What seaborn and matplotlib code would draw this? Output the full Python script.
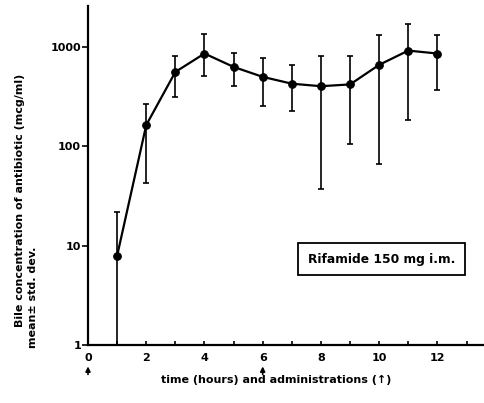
import numpy as np
import pandas as pd
import matplotlib
matplotlib.use("Agg")
import matplotlib.pyplot as plt
import matplotlib.transforms as mtransforms
import seaborn as sns

hours = [1, 2, 3, 4, 5, 6, 7, 8, 9, 10, 11, 12]
mean = [7.9, 163, 558, 855, 627, 498, 425, 401, 418, 658, 915, 855]
upper = [22, 265, 803, 1335, 870, 766, 663, 808, 808, 1306, 1683, 1306]
lower = [1, 43, 309, 505, 401, 256, 228, 37, 106, 66, 184, 365]
admin_times = [0, 6]
ytick_vals = [1, 10, 100, 1000]
xtick_vals = [0, 2, 4, 6, 8, 10, 12]

sns.set_style("ticks")
plt.rcParams['font.family'] = ['DejaVu Sans']
plt.rcParams['font.weight'] = 'bold'
plt.rcParams['text.color'] = 'black'
plt.rcParams['xtick.color'] = 'black'
plt.rcParams['ytick.color'] = 'black'
plt.rcParams['axes.edgecolor'] = 'black'

fig = plt.figure(figsize=(4.84, 4.03), dpi=100)
ax = fig.add_axes([88/484, 58/403, 396/484, 339/403])

df = pd.DataFrame({"hour": hours, "mean": mean})
m = np.array(mean); u = np.array(upper); l = np.array(lower)
ax.errorbar(hours, mean, yerr=[m - l, u - m], fmt='none', ecolor='black',
            elinewidth=1.2, capsize=2.2, capthick=1.2, zorder=2)
sns.lineplot(data=df, x="hour", y="mean", ax=ax, color='black', linewidth=1.6,
             marker='o', markersize=5.5, markeredgecolor='black', zorder=3)

ax.set_yscale('log')
ax.set_ylim(1, 10**3.41)
ax.set_xlim(0, 13.6)
ax.set_yticks(ytick_vals)
ax.set_yticklabels([str(v) for v in ytick_vals], fontsize=8, fontweight='bold')
ax.yaxis.set_minor_locator(matplotlib.ticker.NullLocator())
ax.set_xticks(xtick_vals)
ax.set_xticklabels([str(v) for v in xtick_vals], fontsize=8, fontweight='bold')
ax.set_xticks(list(range(1, 14, 2)), minor=True)
ax.tick_params(axis='x', which='both', direction='in', length=3, width=1.2, pad=6)
ax.tick_params(axis='y', which='both', direction='out', length=4, width=1.2, pad=1)
for s in ['top', 'right']:
    ax.spines[s].set_visible(False)
for s in ['left', 'bottom']:
    ax.spines[s].set_linewidth(1.6)
ax.set_xlabel('')
ax.set_ylabel('')

trans = mtransforms.blended_transform_factory(ax.transData, ax.transAxes)
for t in admin_times:
    ax.annotate('', xy=(t, -0.055), xytext=(t, -0.095), xycoords=trans, textcoords=trans,
                arrowprops=dict(arrowstyle='-|>', color='black', lw=1.2, mutation_scale=7),
                annotation_clip=False)

fig.text(276/484, 1 - 380/403, 'time (hours) and administrations (\u2191)',
         ha='center', va='center', fontsize=8, fontweight='bold')
fig.text(20/484, 1 - 200/403, 'Bile concentration of antibiotic (mcg/ml)', rotation=90,
         ha='center', va='center', fontsize=8, fontweight='bold')
fig.text(33/484, 1 - 297/403, 'mean\u00b1 std. dev.', rotation=90,
         ha='center', va='center', fontsize=8, fontweight='bold')

fig.text(381.5/484, 1 - 259/403, 'Rifamide 150 mg i.m.',
         ha='center', va='center', fontsize=8.8, fontweight='bold',
         bbox=dict(boxstyle='square,pad=0.8', facecolor='white', edgecolor='black', linewidth=1.3))

fig.savefig('out.png', dpi=100)
